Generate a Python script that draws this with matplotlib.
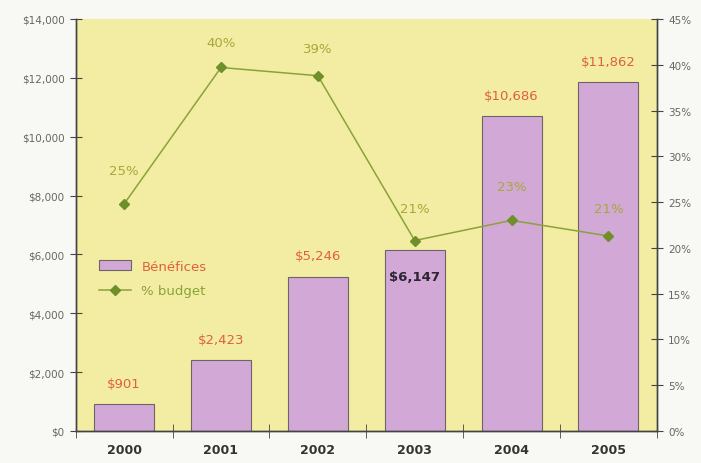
import matplotlib.pyplot as plt
import matplotlib.ticker as mticker
import numpy as np

years = ['2000', '2001', '2002', '2003', '2004', '2005']
benefices = [901, 2423, 5246, 6147, 10686, 11862]
budget_pct = [24.8, 39.7, 38.8, 20.8, 23.0, 21.3]
benef_labels = ['$901', '$2,423', '$5,246', '$6,147', '$10,686', '$11,862']
pct_labels = ['25%', '40%', '39%', '21%', '23%', '21%']

fig = plt.figure(figsize=(7.01, 4.64), dpi=100)
fig.patch.set_facecolor('#f8f8f5')
ax = fig.add_axes([0.108, 0.069, 0.829, 0.888])
ax.set_facecolor('#f2eda2')

x = np.arange(len(years))
bars = ax.bar(x, benefices, width=0.62, color='#d1a8d6', edgecolor='#6e6466', linewidth=0.8,
              label='Bénéfices', zorder=2)
ax.set_xlim(-0.5, len(years) - 0.5)
ax.set_ylim(0, 14000)
ax.yaxis.set_major_locator(mticker.MultipleLocator(2000))
ax.yaxis.set_major_formatter(mticker.FuncFormatter(lambda v, p: '${:,.0f}'.format(v)))

# bar value labels (the 2003 one sits inside the bar, in dark)
for i, (v, lab) in enumerate(zip(benefices, benef_labels)):
    if i == 3:
        ax.text(i, v - 900, lab, ha='center', va='center', color='#2e2434', fontsize=9.5, fontweight='bold')
    else:
        ax.text(i, v + 700, lab, ha='center', va='center', color='#e0603a', fontsize=9.5)

ax2 = ax.twinx()
ax2.set_ylim(0, 45)
ax2.yaxis.set_major_locator(mticker.MultipleLocator(5))
ax2.yaxis.set_major_formatter(mticker.FuncFormatter(lambda v, p: '{:.0f}%'.format(v)))
line, = ax2.plot(x, budget_pct, color='#8ba23a', marker='D', markersize=5.5,
                 markerfacecolor='#6f8f2a', markeredgecolor='#6f8f2a', linewidth=1.1, label='% budget')
offs = [3.7, 2.7, 2.95, 3.5, 3.7, 2.95]
for i, (v, lab) in enumerate(zip(budget_pct, pct_labels)):
    ax2.text(i, v + offs[i], lab, ha='center', va='center', color='#a6a83a', fontsize=9.5)

for a in (ax, ax2):
    a.spines['top'].set_visible(False)
    for s in ('left', 'right', 'bottom'):
        a.spines[s].set_color('#444444')
        a.spines[s].set_linewidth(1.0)

ax.tick_params(axis='y', direction='inout', length=9, color='#444444', labelsize=7.5, labelcolor='#666666')
ax2.tick_params(axis='y', direction='inout', length=9, color='#444444', labelsize=7.5, labelcolor='#666666')

ax.set_xticks(x)
ax.set_xticklabels(years, fontweight='bold', fontsize=9, color='#333333')
ax.set_xticks(np.arange(-0.5, len(years) + 0.5, 1), minor=True)
ax.tick_params(axis='x', which='major', length=0, pad=9)
ax.tick_params(axis='x', which='minor', direction='inout', length=10, color='#444444')

leg = ax.legend([bars, line], ['Bénéfices', '% budget'], loc='upper left',
                bbox_to_anchor=(0.02, 0.445), frameon=False, fontsize=9.5,
                handlelength=2.4, labelspacing=0.9)
leg.get_texts()[0].set_color('#e0603a')
leg.get_texts()[1].set_color('#8ba23a')

fig.savefig('out.png', dpi=100, facecolor=fig.get_facecolor())
